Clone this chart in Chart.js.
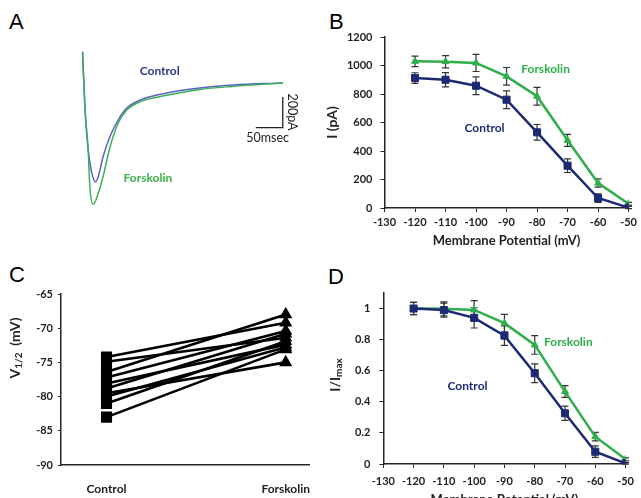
<!DOCTYPE html>
<html>
<head>
<meta charset="utf-8">
<script src="https://cdn.jsdelivr.net/npm/chart.js@4.4.1/dist/chart.umd.min.js"></script>
<style>
  body { margin: 0; background: #fff; width: 641px; height: 498px; overflow: hidden; position: relative; }
  .letter { position: absolute; font-family: 'Liberation Sans', Arial, sans-serif; font-size: 22px; line-height: 22px; color: #000; }
  canvas { position: absolute; }
</style>
</head>
<body>
<div class="letter" style="left:9px;top:11px">A</div>
<div class="letter" style="left:329px;top:11px">B</div>
<div class="letter" style="left:9px;top:264px">C</div>
<div class="letter" style="left:328px;top:266px">D</div>

<canvas id="traces" width="320" height="250" style="left:0;top:0"></canvas>
<canvas id="ivCurve" width="321" height="250" style="left:320px;top:0"></canvas>
<canvas id="vHalf" width="320" height="238" style="left:0;top:260px"></canvas>
<canvas id="normCurve" width="321" height="260" style="left:320px;top:260px"></canvas>

<script>
// A: example current traces (time in ms, current in pA relative to end of sweep)
const ctrlTraceMs = [0, 4.3, 10.4, 16.6, 24, 29, 38, 50.6, 65.9, 81.5, 106, 156, 217, 278, 371];
const ctrlTracePa = [204, -154, -436, -578, -643, -610, -480, -350, -241, -165, -111, -65, -33, -13, 0];
const forskTraceMs = [0, 4.3, 10.4, 13.5, 19.6, 29, 38, 50.6, 65.9, 81.5, 106, 156, 217, 278, 371];
const forskTracePa = [204, -154, -436, -676, -790, -719, -610, -420, -262, -178, -122, -80, -42, -22, 0];
const scaleBarMs = 50;
const scaleBarPa = 200;

// B and D: membrane potential steps
const voltages = [-120, -110, -100, -90, -80, -70, -60, -50];
const ctrlCurrent = [912, 900, 858, 760, 531, 297, 70, 3];
const ctrlCurrentErr = [37, 50, 62, 62, 55, 48, 30, 8];
const forskCurrent = [1029, 1027, 1018, 924, 784, 475, 175, 30];
const forskCurrentErr = [37, 43, 60, 62, 62, 42, 29, 10];

const ctrlNorm = [1.0, 0.99, 0.94, 0.826, 0.584, 0.326, 0.079, 0.004];
const ctrlNormErr = [0.04, 0.045, 0.065, 0.063, 0.06, 0.046, 0.037, 0.005];
const forskNorm = [1.0, 0.998, 0.991, 0.906, 0.766, 0.466, 0.176, 0.03];
const forskNormErr = [0.04, 0.045, 0.06, 0.057, 0.06, 0.038, 0.027, 0.01];

// C: V1/2 per cell, paired
const conditions = ['Control', 'Forskolin'];
const ctrlV12 = [-74.2, -74.9, -76.4, -77.2, -78.1, -78.8, -79.5, -80.0, -81.0, -83.0];
const forskV12 = [-69.2, -71.4, -68.0, -70.4, -72.4, -70.8, -75.0, -72.8, -71.9, -73.1];

const NAVY = '#1c2a74';
const GREEN = '#2fae4a';
const AXIS = '#262626';

Chart.defaults.font.family = 'Lato';
Chart.defaults.color = '#222';
Chart.defaults.animation = false;

const zip = (xs, ys) => xs.map((x, i) => ({ x: x, y: ys[i] }));

// error bars (drawn under the markers)
const errorBarsPlugin = {
    id: 'errorBars',
    beforeDatasetsDraw(chart, args, opts) {
        if (!opts.errors) return;
        const { ctx } = chart;
        const x = chart.scales.x, y = chart.scales.y;
        ctx.save();
        ctx.strokeStyle = opts.color || '#333';
        ctx.lineWidth = opts.lineWidth || 1.2;
        chart.data.datasets.forEach((ds, i) => {
            const errs = opts.errors[i];
            if (!errs) return;
            ds.data.forEach((pt, j) => {
                const px = x.getPixelForValue(pt.x);
                const top = y.getPixelForValue(pt.y + errs[j]);
                const bot = y.getPixelForValue(pt.y - errs[j]);
                const cap = (opts.capWidth || 7) / 2;
                ctx.beginPath();
                ctx.moveTo(px, top); ctx.lineTo(px, bot);
                ctx.moveTo(px - cap, top); ctx.lineTo(px + cap, top);
                ctx.moveTo(px - cap, bot); ctx.lineTo(px + cap, bot);
                ctx.stroke();
            });
        });
        ctx.restore();
    }
};

// text placed in data space
const notesPlugin = {
    id: 'notes',
    afterDraw(chart, args, opts) {
        if (!opts.items) return;
        const { ctx } = chart;
        opts.items.forEach(n => {
            ctx.save();
            ctx.font = n.font || opts.font;
            ctx.fillStyle = n.color || '#222';
            ctx.textAlign = 'center';
            ctx.textBaseline = 'middle';
            ctx.translate(chart.scales.x.getPixelForValue(n.x), chart.scales.y.getPixelForValue(n.y));
            if (n.rotate) ctx.rotate(n.rotate);
            ctx.fillText(n.text, 0, 0);
            ctx.restore();
        });
    }
};

// vertical axis title with subscript parts
const sideTitlePlugin = {
    id: 'sideTitle',
    afterDraw(chart, args, opts) {
        if (!opts.parts) return;
        const { ctx } = chart;
        const big = `bold ${opts.size}px Lato`;
        const small = `bold ${Math.round(opts.size * 0.72)}px Lato`;
        ctx.save();
        ctx.translate(opts.x, opts.y);
        ctx.rotate(-Math.PI / 2);
        ctx.fillStyle = '#222';
        ctx.textBaseline = 'middle';
        ctx.textAlign = 'left';
        let total = 0;
        opts.parts.forEach(p => { ctx.font = p.sub ? small : big; total += ctx.measureText(p.text).width; });
        let cx = -total / 2;
        opts.parts.forEach(p => {
            ctx.font = p.sub ? small : big;
            ctx.fillText(p.text, cx, p.sub ? opts.size * 0.3 : 0);
            cx += ctx.measureText(p.text).width;
        });
        ctx.restore();
    }
};

Chart.register(errorBarsPlugin, notesPlugin, sideTitlePlugin);

const tickFont = { size: 11, weight: 'bold' };
const noLegend = { legend: { display: false }, tooltip: { enabled: false } };

// ---- A ----
const barEnd = 371, barLevel = -291;
new Chart(document.getElementById('traces'), {
    type: 'line',
    data: {
        datasets: [
            { data: zip(forskTraceMs, forskTracePa), borderColor: '#3cae58', borderWidth: 1.5, pointRadius: 0, cubicInterpolationMode: 'monotone' },
            { data: zip(ctrlTraceMs, ctrlTracePa), borderColor: '#5a63c6', borderWidth: 1.5, pointRadius: 0, cubicInterpolationMode: 'monotone' },
            {
                data: [{ x: barEnd - scaleBarMs, y: barLevel }, { x: barEnd, y: barLevel }, { x: barEnd, y: barLevel + scaleBarPa }],
                borderColor: '#222', borderWidth: 1.3, pointRadius: 0, tension: 0
            }
        ]
    },
    options: {
        responsive: false,
        layout: { padding: 0 },
        scales: {
            x: { type: 'linear', display: false, min: -153, max: 440 },
            y: { display: false, min: -1088, max: 541 }
        },
        plugins: {
            ...noLegend,
            notes: {
                font: 'bold 12px Lato',
                items: [
                    { text: 'Control', x: 143, y: 78, color: '#2b3a8e' },
                    { text: 'Forskolin', x: 121, y: -619, color: '#3db14a' },
                    { text: '200pA', x: 389, y: -189, color: '#222', font: '12.5px Lato', rotate: Math.PI / 2 },
                    { text: '50msec', x: 343, y: -358, color: '#222', font: '12.5px Lato' }
                ]
            }
        }
    }
});

// shared x axis for B and D
function voltageAxis(height, tickPad, titlePad) {
    return {
        type: 'linear', min: -130, max: -50,
        afterFit: s => { s.height = height; },
        ticks: { stepSize: 10, font: tickFont, padding: tickPad, maxRotation: 0 },
        grid: { drawOnChartArea: false, tickLength: 4, color: AXIS },
        border: { color: AXIS, width: 1.5 },
        title: { display: true, text: 'Membrane Potential (mV)', font: { size: 13, weight: 'bold' }, padding: { top: 0, bottom: titlePad } }
    };
}

function ivDatasets(ctrl, forsk) {
    return [
        { data: zip(voltages, ctrl), borderColor: NAVY, backgroundColor: NAVY, borderWidth: 2.5, pointStyle: 'rect', pointRadius: 5, pointBorderWidth: 1, tension: 0 },
        { data: zip(voltages, forsk), borderColor: GREEN, backgroundColor: GREEN, borderWidth: 2.5, pointStyle: 'triangle', pointRadius: 4, pointBorderWidth: 1, tension: 0 }
    ];
}

// ---- B ----
new Chart(document.getElementById('ivCurve'), {
    type: 'line',
    data: { datasets: ivDatasets(ctrlCurrent, forskCurrent) },
    options: {
        responsive: false,
        layout: { padding: { left: 0, top: 37, right: 9, bottom: 0 } },
        scales: {
            x: voltageAxis(42, 4, 1),
            y: {
                min: 0, max: 1200,
                afterFit: s => { s.width = 64.5; },
                ticks: { stepSize: 200, font: tickFont, padding: 8, callback: v => String(v) },
                grid: { drawOnChartArea: false, tickLength: 4, color: AXIS },
                border: { color: AXIS, width: 1.5 },
                title: { display: true, text: 'I (pA)', font: { size: 14, weight: 'bold' }, padding: { top: 4, bottom: 0 } }
            }
        },
        plugins: {
            ...noLegend,
            errorBars: { errors: [ctrlCurrentErr, forskCurrentErr], color: '#333', capWidth: 7, lineWidth: 1.2 },
            notes: {
                font: 'bold 12px Lato',
                items: [
                    { text: 'Forskolin', x: -77.2, y: 975, color: GREEN },
                    { text: 'Control', x: -97.2, y: 561, color: NAVY }
                ]
            }
        }
    }
});

// ---- C ----
new Chart(document.getElementById('vHalf'), {
    type: 'line',
    data: {
        datasets: ctrlV12.map((v, i) => ({
            data: [{ x: 0, y: v }, { x: 1, y: forskV12[i] }],
            borderColor: '#000', backgroundColor: '#000', borderWidth: 2.6,
            pointStyle: ['rect', 'triangle'], pointRadius: [6, 5], tension: 0
        }))
    },
    options: {
        responsive: false,
        layout: { padding: { left: 0, top: 34, right: 10, bottom: 0 } },
        scales: {
            x: {
                type: 'linear', min: -0.254, max: 1.13,
                afterFit: s => { s.height = 33; },
                afterBuildTicks: s => { s.ticks = conditions.map((c, i) => ({ value: i })); },
                ticks: { font: { size: 12, weight: 'bold' }, padding: 9, maxRotation: 0, callback: v => conditions[v] },
                grid: { display: false },
                border: { color: AXIS, width: 1.5 }
            },
            y: {
                min: -90, max: -65,
                afterFit: s => { s.width = 61; },
                ticks: { stepSize: 5, font: tickFont, padding: 5 },
                grid: { drawOnChartArea: false, tickLength: 3, color: AXIS },
                border: { color: AXIS, width: 1.5 }
            }
        },
        plugins: {
            ...noLegend,
            sideTitle: { parts: [{ text: 'V' }, { text: '1/2', sub: true }, { text: '  (mV)' }], x: 15, y: 88, size: 14 }
        }
    }
});

// ---- D ----
new Chart(document.getElementById('normCurve'), {
    type: 'line',
    data: { datasets: ivDatasets(ctrlNorm, forskNorm) },
    options: {
        responsive: false,
        layout: { padding: { left: 0, top: 33, right: 11, bottom: 0 } },
        scales: {
            x: voltageAxis(56, 7, 12),
            y: {
                min: 0, max: 1.1,
                afterFit: s => { s.width = 63.3; },
                afterBuildTicks: s => { s.ticks = s.ticks.filter(t => t.value <= 1.0001); },
                ticks: { stepSize: 0.2, font: tickFont, padding: 9, callback: v => +v.toFixed(1) },
                grid: { drawOnChartArea: false, tickLength: 4, color: AXIS },
                border: { color: AXIS, width: 1.5 }
            }
        },
        plugins: {
            ...noLegend,
            errorBars: { errors: [ctrlNormErr, forskNormErr], color: '#333', capWidth: 7, lineWidth: 1.2 },
            sideTitle: { parts: [{ text: 'I/I' }, { text: 'max', sub: true }], x: 15, y: 115, size: 14 },
            notes: {
                font: 'bold 12px Lato',
                items: [
                    { text: 'Forskolin', x: -68.9, y: 0.781, color: GREEN },
                    { text: 'Control', x: -102.2, y: 0.498, color: NAVY }
                ]
            }
        }
    }
});
</script>
</body>
</html>
